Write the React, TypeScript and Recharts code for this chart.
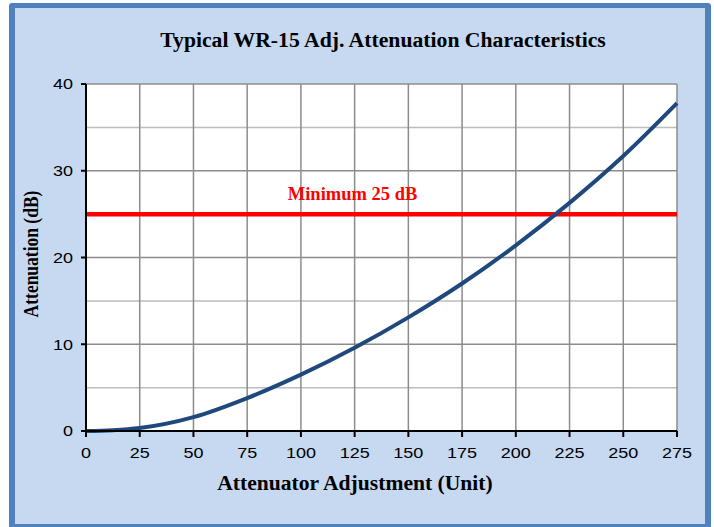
import React from "react";
import {
  LineChart,
  Line,
  XAxis,
  YAxis,
  CartesianGrid,
  ReferenceLine,
} from "recharts";

// Attenuator adjustment (unit) vs attenuation (dB)
const adjustment = [0, 12.5, 25, 50, 75, 100, 125, 150, 175, 200, 225, 250, 275];
const attenuation = [0, 0.1, 0.35, 1.6, 3.8, 6.5, 9.6, 13.1, 17.0, 21.4, 26.3, 31.7, 37.8];

const xTicks = [0, 25, 50, 75, 100, 125, 150, 175, 200, 225, 250, 275];
const yTicks = [0, 10, 20, 30, 40];
const yMinorLines = [5, 15, 25, 35];
const minimumDb = 25;

const data = adjustment.map((x, i) => ({ x, y: attenuation[i] }));

const serif = '"Liberation Serif", "Times New Roman", serif';
const sans = '"Liberation Sans", Arial, sans-serif';

// chart area margins (plot runs 86..677 x 84..431)
const margin = { top: 84, right: 37, bottom: 66, left: 46 };
const yAxisWidth = 40;

// tick text in the original is stretched sideways a little
function XTick({ x, y, payload }: any) {
  return (
    <text
      transform={`translate(${x},${y}) scale(1.2,1)`}
      textAnchor="middle"
      dy="0.71em"
      fill="#000"
      fontFamily={sans}
      fontSize={15}
    >
      {payload.value}
    </text>
  );
}

function YTick({ x, y, payload }: any) {
  return (
    <text
      transform={`translate(${x},${y}) scale(1.2,1)`}
      textAnchor="end"
      dy="0.355em"
      fill="#000"
      fontFamily={sans}
      fontSize={15}
    >
      {payload.value}
    </text>
  );
}

function MinLabel(props: any) {
  const { viewBox } = props;
  if (!viewBox) return null;
  return (
    <text
      x={viewBox.x + viewBox.width * 0.451}
      y={viewBox.y - 14}
      textAnchor="middle"
      fill="#ff0000"
      fontFamily={serif}
      fontWeight="bold"
      fontSize={18.5}
    >
      Minimum 25 dB
    </text>
  );
}

export default function App() {
  const W = 714;
  const H = 527;
  return (
    <div style={{ position: "absolute", left: 0, top: 0, width: W, height: H, background: "#fff", overflow: "hidden" }}>
      <div
        style={{
          position: "absolute",
          left: 9,
          top: 3,
          width: 702,
          height: 526,
          boxSizing: "border-box",
          background: "#c6d9f1",
          border: "5px solid #4f81bd",
          borderLeftWidth: 6,
          borderRightWidth: 6,
          borderRadius: 3,
        }}
      />
      <div style={{ position: "absolute", left: 0, top: 0 }}>
        <LineChart width={W} height={H} data={data} margin={margin}>
          <CartesianGrid
            stroke="#bdbdbd"
            strokeWidth={1.5}
            vertical={false}
            horizontalValues={yMinorLines}
            fill="#ffffff"
            fillOpacity={1}
          />
          <CartesianGrid
            stroke="#8c8c8c"
            strokeWidth={1.5}
            horizontalValues={yTicks}
            verticalValues={xTicks}
          />
          <XAxis
            dataKey="x"
            type="number"
            domain={[0, 275]}
            ticks={xTicks}
            interval={0}
            height={30}
            axisLine={{ stroke: "#000", strokeWidth: 2 }}
            tickLine={{ stroke: "#000", strokeWidth: 2 }}
            tickSize={6}
            tickMargin={10}
            tick={<XTick />}
          />
          <YAxis
            type="number"
            domain={[0, 40]}
            ticks={yTicks}
            interval={0}
            width={yAxisWidth}
            axisLine={{ stroke: "#000", strokeWidth: 2 }}
            tickLine={{ stroke: "#000", strokeWidth: 2 }}
            tickSize={5}
            tickMargin={8}
            tick={<YTick />}
          />
          <ReferenceLine
            y={minimumDb}
            stroke="#ff0000"
            strokeWidth={4.5}
            label={<MinLabel />}
          />
          <Line
            type="monotone"
            dataKey="y"
            stroke="#1f497d"
            strokeWidth={4}
            dot={false}
            isAnimationActive={false}
          />
        </LineChart>
      </div>
      <svg
        width={W}
        height={H}
        style={{ position: "absolute", left: 0, top: 0, pointerEvents: "none" }}
      >
        <text x={383} y={47} textAnchor="middle" fontFamily={serif} fontWeight="bold" fontSize={21.7} fill="#000">
          Typical WR-15 Adj. Attenuation Characteristics
        </text>
        <text x={355} y={490} textAnchor="middle" fontFamily={serif} fontWeight="bold" fontSize={21.6} fill="#000">
          Attenuator Adjustment (Unit)
        </text>
        <text
          transform="translate(38,254) scale(1.2,1) rotate(-90)"
          textAnchor="middle"
          fontFamily={serif}
          fontWeight="bold"
          fontSize={17.5}
          fill="#000"
        >
          Attenuation (dB)
        </text>
      </svg>
    </div>
  );
}
